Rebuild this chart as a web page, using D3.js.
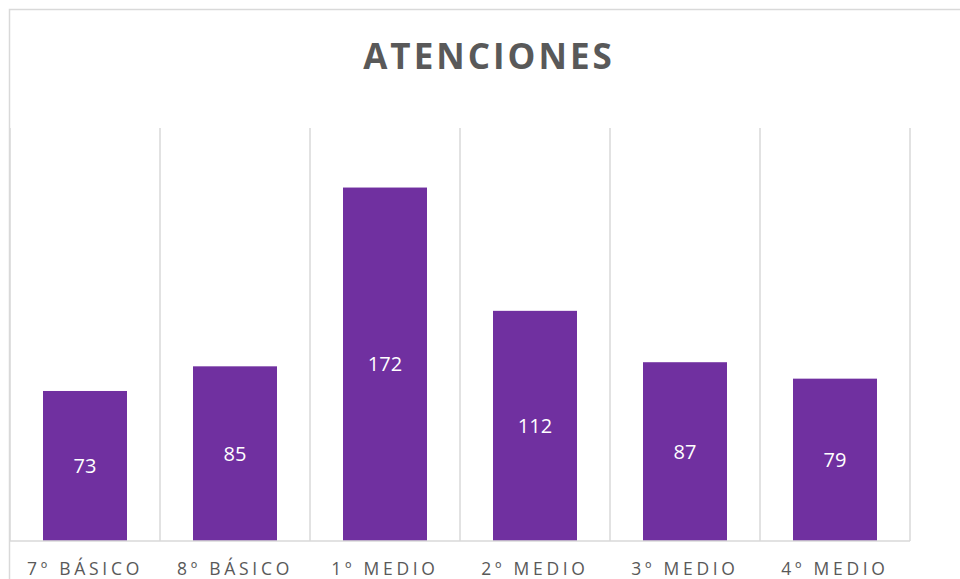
<!DOCTYPE html>
<html>
<head>
<meta charset="utf-8">
<script src="https://cdn.jsdelivr.net/npm/d3@7"></script>
<style>
  body { margin: 0; background: #fff; }
  text { font-family: "Open Sans", sans-serif; }
</style>
</head>
<body>
<div class="canvas"></div>
<script>
// podaci
const categories = ['7º BÁSICO', '8º BÁSICO', '1º MEDIO', '2º MEDIO', '3º MEDIO', '4º MEDIO'];
const values = [73, 85, 172, 112, 87, 79];
const chartTitle = 'ATENCIONES';

const svg = d3.select('.canvas')
  .append('svg')
  .attr('width', 960)
  .attr('height', 579);

// okvir grafa
svg.append('rect')
  .attr('x', 9.5).attr('y', 9.5)
  .attr('width', 1000).attr('height', 600)
  .attr('fill', 'none')
  .attr('stroke', '#d9d9d9')
  .attr('stroke-width', 1.5);

const margin = { top: 130, left: 10 };
const diagramWidth = 900;
const diagramHeight = 411;
const diagram = svg.append('g')
  .attr('transform', `translate(${margin.left}, ${margin.top})`);

const x = d3.scaleBand()
  .domain(categories)
  .range([0, diagramWidth])
  .paddingInner(0.44)
  .paddingOuter(0.22);

const y = d3.scaleLinear().domain([0, 200]).range([diagramHeight, 0]);

// vertikalne linije mreze
const step = x.step();
const gridX = d3.range(categories.length + 1).map(i => i * step);
diagram.selectAll('line.grid')
  .data(gridX)
  .enter().append('line')
  .attr('class', 'grid')
  .attr('x1', d => d).attr('x2', d => d)
  .attr('y1', -2).attr('y2', diagramHeight)
  .attr('stroke', '#d9d9d9')
  .attr('stroke-width', 1.5);

// stupci
diagram.selectAll('rect')
  .data(values)
  .enter().append('rect')
  .attr('x', (d, i) => x(categories[i]))
  .attr('y', d => y(d))
  .attr('width', x.bandwidth())
  .attr('height', d => diagramHeight - y(d))
  .attr('fill', '#7030a0');

// oznake vrijednosti
diagram.selectAll('text.val')
  .data(values)
  .enter().append('text')
  .attr('class', 'val')
  .attr('x', (d, i) => x(categories[i]) + x.bandwidth() / 2)
  .attr('y', d => (y(d) + diagramHeight) / 2)
  .attr('dy', '0.36em')
  .attr('text-anchor', 'middle')
  .attr('fill', '#fff')
  .attr('font-size', 20)
  .text(d => d);

// x os
const xAxisGroup = diagram.append('g')
  .attr('transform', `translate(0, ${diagramHeight})`)
  .call(d3.axisBottom(x).tickSize(0).tickPadding(0));
xAxisGroup.select('.domain')
  .attr('d', `M0,0H${diagramWidth}`)
  .attr('stroke', '#d9d9d9')
  .attr('stroke-width', 1.5);
xAxisGroup.selectAll('text')
  .attr('y', 34)
  .attr('dy', 0)
  .attr('fill', '#595959')
  .attr('font-size', 17.5)
  .style('letter-spacing', '3.7px');

// naslov
svg.append('text')
  .attr('x', 489)
  .attr('y', 69)
  .attr('text-anchor', 'middle')
  .attr('fill', '#595959')
  .attr('font-size', 35)
  .attr('font-weight', 'bold')
  .style('letter-spacing', '3px')
  .text(chartTitle);
</script>
</body>
</html>
